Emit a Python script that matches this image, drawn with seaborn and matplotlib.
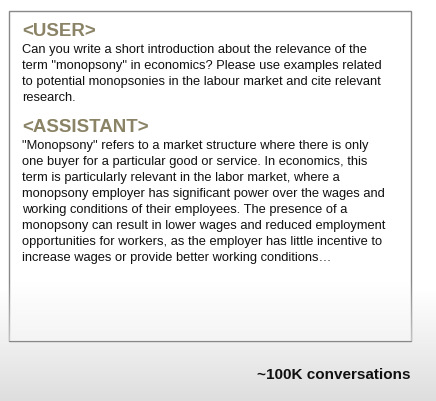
import numpy as np
import matplotlib.pyplot as plt
import seaborn as sns
from matplotlib.patches import Rectangle

sns.set_theme(style="white")
plt.rcParams['font.family'] = ['Liberation Sans', 'DejaVu Sans']

user_header = "<USER>"
user_lines = [
    'Can you write a short introduction about the relevance of the',
    'term "monopsony" in economics? Please use examples related',
    'to potential monopsonies in the labour market and cite relevant',
    'research.',
]
assistant_header = "<ASSISTANT>"
assistant_lines = [
    '"Monopsony" refers to a market structure where there is only',
    'one buyer for a particular good or service. In economics, this',
    'term is particularly relevant in the labor market, where a',
    'monopsony employer has significant power over the wages and',
    'working conditions of their employees. The presence of a',
    'monopsony can result in lower wages and reduced employment',
    'opportunities for workers, as the employer has little incentive to',
    'increase wages or provide better working conditions…',
]
footer = "~100K conversations"

fig = plt.figure(figsize=(4.36, 4.02), dpi=100)
ax = fig.add_axes([0, 0, 1, 1])
ax.set_xlim(0, 436)
ax.set_ylim(402, 0)
ax.axis('off')

# background: white fading to light grey at the bottom
grad = np.ones((402, 1))
ys = np.arange(402)
grad[:, 0] = np.where(ys < 290, 1.0, 1.0 - 0.13 * np.clip((ys - 290) / 112, 0, 1))
ax.imshow(np.repeat(grad[:, :, None], 3, axis=2), extent=(0, 436, 402, 0),
          aspect='auto', zorder=0)

ax.add_patch(Rectangle((9, 12), 402, 330, facecolor='white', edgecolor='#888888',
                       lw=1.0, zorder=1))
# fade over the lower part of the box
fade = np.linspace(0, 1, 60)[:, None]
rgba = np.zeros((60, 1, 4))
rgba[..., :3] = 0.93
rgba[..., 3] = fade * 0.6
ax.imshow(rgba, extent=(9, 411, 342, 282), aspect='auto', zorder=2)

head_col = '#8a8366'
ax.text(22, 32, user_header, fontsize=13.5, fontweight='bold', color=head_col,
        va='center', zorder=3)
for i, line in enumerate(user_lines):
    ax.text(22, 50 + 16 * i, line, fontsize=9.3, color='#111111', va='center', zorder=3)
ax.text(22, 128, assistant_header, fontsize=13.5, fontweight='bold', color=head_col,
        va='center', zorder=3)
for i, line in enumerate(assistant_lines):
    ax.text(22, 146 + 16 * i, line, fontsize=9.3, color='#111111', va='center', zorder=3)

ax.text(410, 375, footer, fontsize=11, fontweight='bold', color='#111111',
        ha='right', va='center', zorder=3)

fig.savefig('out.png', dpi=100)
